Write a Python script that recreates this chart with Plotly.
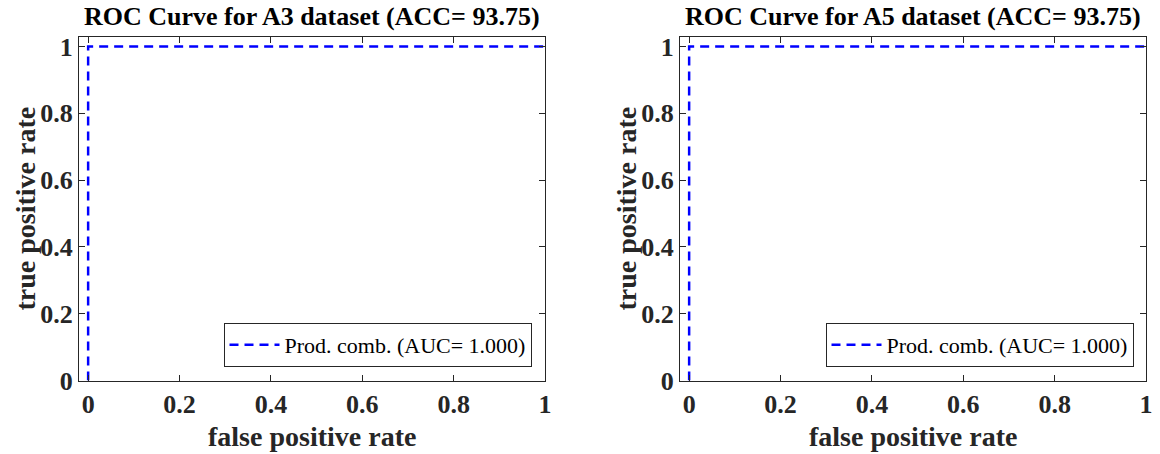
import plotly.graph_objects as go

# Data
fpr = [0, 0, 1]
tpr = [0, 1, 1]
titles = ["ROC Curve for A3 dataset (ACC= 93.75)", "ROC Curve for A5 dataset (ACC= 93.75)"]
legend_names = ["Prod. comb. (AUC= 1.000)", "Prod. comb. (AUC= 1.000)"]
tick_vals = [0, 0.2, 0.4, 0.6, 0.8, 1]
tick_text = ["<b>0</b>", "<b>0.2</b>", "<b>0.4</b>", "<b>0.6</b>", "<b>0.8</b>", "<b>1</b>"]
x_label = "false positive rate"
y_label = "true positive rate"

W, H = 1160, 454
FONT = "Liberation Serif"


def px(x):
    return x / W


def py(y):
    return 1 - y / H


xdoms = [(px(79), px(545)), (px(680), px(1146))]
ydom = (py(380.5), py(36.5))
legend_right = [531.5, 1133.5]
ytitle_x = [25, 626]

fig = go.Figure()
annotations = []
for i in range(2):
    sfx = "" if i == 0 else str(i + 1)
    fig.add_trace(go.Scatter(
        x=fpr, y=tpr, mode="lines", name=legend_names[i],
        line=dict(color="#0000FF", width=2.5, dash="9px,6px"),
        xaxis="x" + sfx, yaxis="y" + sfx,
        legend="legend" + sfx,
    ))
    axis_common = dict(
        showgrid=False, zeroline=False, showline=True, linecolor="#262626",
        linewidth=1, mirror="ticks", ticks="inside", ticklen=6, tickwidth=1,
        tickcolor="#262626", tickvals=tick_vals, ticktext=tick_text,
        tickfont=dict(family=FONT, size=26, color="#262626"),
        automargin=False,
    )
    fig.update_layout(**{
        "xaxis" + sfx: dict(axis_common, domain=list(xdoms[i]), range=[-0.02, 1],
                            anchor="y" + sfx),
        "yaxis" + sfx: dict(axis_common, domain=list(ydom), range=[0, 1.03],
                            anchor="x" + sfx),
    })
    cx = (xdoms[i][0] + xdoms[i][1]) / 2
    annotations.append(dict(text="<b>" + titles[i] + "</b>", x=cx, y=py(17),
                            xref="paper", yref="paper", showarrow=False,
                            xanchor="center", yanchor="middle",
                            font=dict(family=FONT, size=26, color="black")))
    annotations.append(dict(text="<b>" + x_label + "</b>", x=cx, y=py(436),
                            xref="paper", yref="paper", showarrow=False,
                            xanchor="center", yanchor="middle",
                            font=dict(family=FONT, size=28, color="#262626")))
    annotations.append(dict(text="<b>" + y_label + "</b>",
                            x=px(ytitle_x[i]), y=(ydom[0] + ydom[1]) / 2,
                            xref="paper", yref="paper", showarrow=False, textangle=-90,
                            xanchor="center", yanchor="middle",
                            font=dict(family=FONT, size=28, color="#262626")))
    fig.update_layout(**{
        "legend" + sfx: dict(
            x=px(legend_right[i]), y=py(367),
            xanchor="right", yanchor="bottom",
            bgcolor="white", bordercolor="#262626", borderwidth=1,
            font=dict(family=FONT, size=22, color="black"),
            itemwidth=50, tracegroupgap=0,
        )
    })

fig.update_layout(
    width=W, height=H,
    margin=dict(l=0, r=0, t=0, b=0, pad=0, autoexpand=False),
    paper_bgcolor="white", plot_bgcolor="white",
    annotations=annotations, showlegend=True,
)
# Remove the default 8px body margin so the figure fills the window exactly.
fig.write_html("out.html", config={"displayModeBar": False},
               post_script="document.body.style.margin='0';")
